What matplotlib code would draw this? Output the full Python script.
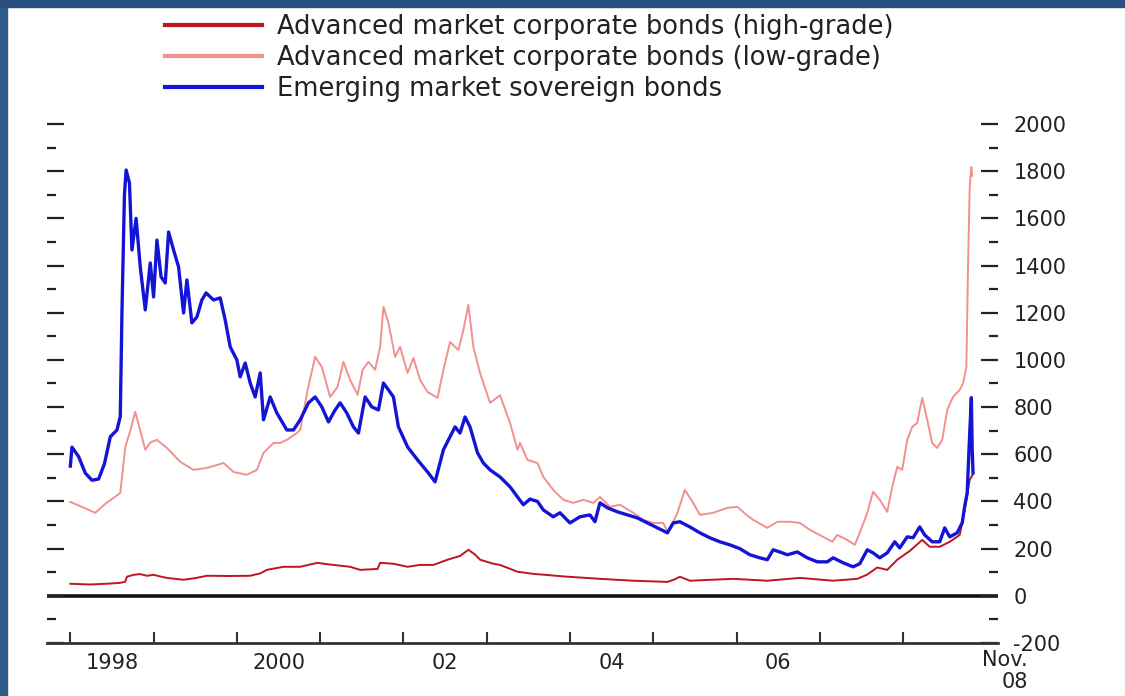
import matplotlib
matplotlib.use("Agg")
import matplotlib.pyplot as plt
from matplotlib.patches import Rectangle

# spreads in basis points, dates as decimal years
hg_t = [1998.00, 1998.24, 1998.48, 1998.60, 1998.66, 1998.68, 1998.76, 1998.84, 1998.92, 1999.00,
        1999.08, 1999.16, 1999.36, 1999.50, 1999.64, 1999.92, 2000.16, 2000.28, 2000.36, 2000.56,
        2000.76, 2000.97, 2001.06, 2001.16, 2001.36, 2001.48, 2001.69, 2001.72, 2001.88, 2002.05,
        2002.20, 2002.36, 2002.53, 2002.68, 2002.78, 2002.86, 2002.92, 2003.08, 2003.16, 2003.37,
        2003.56, 2003.97, 2004.36, 2004.76, 2005.17, 2005.26, 2005.32, 2005.44, 2005.96, 2006.37,
        2006.76, 2007.16, 2007.45, 2007.57, 2007.69, 2007.81, 2007.93, 2008.08, 2008.23, 2008.32,
        2008.44, 2008.56, 2008.68, 2008.74, 2008.80, 2008.83]
hg_v = [51, 48, 52, 55, 60, 81, 89, 92, 85, 89,
        82, 76, 68, 75, 85, 84, 85, 95, 110, 123,
        123, 140, 135, 131, 123, 110, 114, 140, 136, 123,
        131, 131, 153, 169, 195, 175, 153, 136, 131, 102,
        93, 81, 72, 64, 59, 70, 81, 64, 72, 64,
        76, 64, 72, 90, 120, 110, 153, 190, 237, 208,
        208, 229, 258, 364, 491, 510]

lg_t = [1998.00, 1998.12, 1998.30, 1998.42, 1998.52, 1998.60, 1998.66, 1998.72, 1998.78, 1998.84,
        1998.90, 1998.96, 1999.04, 1999.16, 1999.32, 1999.48, 1999.64, 1999.84, 1999.96, 2000.12,
        2000.24, 2000.32, 2000.44, 2000.52, 2000.60, 2000.72, 2000.76, 2000.85, 2000.94, 2001.02,
        2001.12, 2001.21, 2001.28, 2001.36, 2001.45, 2001.51, 2001.58, 2001.66, 2001.72, 2001.76,
        2001.82, 2001.90, 2001.96, 2002.05, 2002.12, 2002.20, 2002.29, 2002.41, 2002.48, 2002.56,
        2002.66, 2002.72, 2002.78, 2002.84, 2002.92, 2003.04, 2003.16, 2003.28, 2003.37, 2003.40,
        2003.49, 2003.61, 2003.68, 2003.80, 2003.92, 2004.04, 2004.16, 2004.28, 2004.36, 2004.48,
        2004.60, 2004.76, 2004.88, 2005.00, 2005.12, 2005.18, 2005.29, 2005.38, 2005.48, 2005.56,
        2005.72, 2005.89, 2006.01, 2006.13, 2006.20, 2006.37, 2006.49, 2006.64, 2006.76, 2006.88,
        2007.04, 2007.15, 2007.21, 2007.33, 2007.42, 2007.48, 2007.57, 2007.64, 2007.72, 2007.81,
        2007.87, 2007.93, 2007.99, 2008.05, 2008.11, 2008.17, 2008.23, 2008.29, 2008.35, 2008.41,
        2008.47, 2008.53, 2008.60, 2008.68, 2008.72, 2008.76, 2008.78, 2008.80, 2008.82, 2008.83]
lg_v = [398, 380, 352, 390, 415, 436, 631, 700, 780, 700,
        619, 650, 661, 627, 568, 534, 542, 563, 525, 513,
        534, 606, 648, 648, 661, 690, 703, 873, 1013, 970,
        843, 886, 992, 915, 852, 958, 992, 958, 1055, 1225,
        1157, 1013, 1055, 945, 1008, 915, 864, 839, 958, 1076,
        1042, 1127, 1233, 1055, 945, 818, 850, 733, 619, 648,
        576, 563, 504, 449, 407, 394, 407, 394, 419, 377,
        386, 352, 322, 309, 309, 267, 352, 449, 394, 343,
        352, 373, 377, 340, 322, 288, 314, 314, 309, 280,
        250, 229, 258, 237, 216, 267, 352, 441, 407, 356,
        462, 547, 534, 661, 716, 733, 839, 746, 648, 627,
        661, 788, 843, 873, 900, 970, 1394, 1733, 1818, 1780]

em_t = [1998.00, 1998.02, 1998.10, 1998.18, 1998.26, 1998.34, 1998.41, 1998.48, 1998.56, 1998.60,
        1998.62, 1998.65, 1998.67, 1998.71, 1998.74, 1998.79, 1998.84, 1998.90, 1998.96, 1999.00,
        1999.04, 1999.09, 1999.14, 1999.18, 1999.24, 1999.30, 1999.36, 1999.40, 1999.46, 1999.52,
        1999.58, 1999.63, 1999.72, 1999.80, 1999.86, 1999.92, 2000.00, 2000.04, 2000.10, 2000.16,
        2000.22, 2000.28, 2000.32, 2000.40, 2000.48, 2000.60, 2000.68, 2000.76, 2000.86, 2000.94,
        2001.02, 2001.10, 2001.18, 2001.24, 2001.32, 2001.40, 2001.46, 2001.54, 2001.62, 2001.70,
        2001.76, 2001.82, 2001.88, 2001.94, 2002.05, 2002.17, 2002.29, 2002.38, 2002.48, 2002.56,
        2002.62, 2002.68, 2002.74, 2002.80, 2002.89, 2002.96, 2003.04, 2003.16, 2003.28, 2003.37,
        2003.44, 2003.52, 2003.61, 2003.68, 2003.80, 2003.88, 2004.00, 2004.12, 2004.24, 2004.30,
        2004.36, 2004.45, 2004.57, 2004.69, 2004.81, 2004.93, 2005.05, 2005.17, 2005.24, 2005.32,
        2005.44, 2005.56, 2005.68, 2005.80, 2005.92, 2006.04, 2006.16, 2006.28, 2006.37, 2006.44,
        2006.52, 2006.61, 2006.73, 2006.85, 2006.97, 2007.09, 2007.16, 2007.28, 2007.40, 2007.48,
        2007.57, 2007.64, 2007.72, 2007.81, 2007.90, 2007.96, 2008.05, 2008.12, 2008.20, 2008.26,
        2008.35, 2008.44, 2008.50, 2008.56, 2008.65, 2008.71, 2008.74, 2008.77, 2008.79, 2008.82,
        2008.83, 2008.84]
em_v = [550, 630, 590, 520, 490, 495, 560, 674, 703, 760,
        1200, 1700, 1805, 1750, 1466, 1600, 1394, 1212, 1411, 1267,
        1508, 1352, 1326, 1542, 1466, 1394, 1199, 1339, 1157, 1182,
        1254, 1284, 1254, 1263, 1169, 1055, 1000, 928, 987, 902,
        843, 945, 746, 843, 775, 703, 703, 746, 818, 843,
        801, 737, 788, 818, 775, 716, 690, 843, 801, 788,
        902, 873, 843, 716, 631, 576, 525, 483, 619, 674,
        716, 690, 758, 716, 606, 563, 534, 504, 462, 419,
        386, 410, 400, 364, 335, 352, 309, 335, 343, 314,
        394, 373, 356, 343, 330, 309, 288, 267, 309, 314,
        292, 267, 246, 229, 216, 200, 174, 161, 153, 195,
        186, 174, 186, 161, 144, 144, 161, 140, 123, 136,
        195, 182, 161, 182, 229, 203, 250, 246, 292, 258,
        229, 229, 288, 250, 267, 309, 380, 436, 606, 840,
        620, 520]

labels = ["Advanced market corporate bonds (high-grade)",
          "Advanced market corporate bonds (low-grade)",
          "Emerging market sovereign bonds"]

yticks = [-200, 0, 200, 400, 600, 800, 1000, 1200, 1400, 1600, 1800, 2000]
ytick_labels = ["-200", "0", "200", "400", "600", "800", "1000", "1200",
                "1400", "1600", "1800", "2000"]
year_ticks = list(range(1998, 2009))
year_label_pos = [1998.5, 2000.5, 2002.5, 2004.5, 2006.5]
year_labels = ["1998", "2000", "02", "04", "06"]

W, H = 1125, 696
fig = plt.figure(figsize=(W / 100, H / 100), dpi=100)
plt.rcParams['font.family'] = ['DejaVu Sans']

# blue frame edges
fig.add_artist(Rectangle((0, 0), 7 / W, 1, transform=fig.transFigure,
                         color='#2c5b8c', zorder=0))
fig.add_artist(Rectangle((0, 1 - 7 / H), 1, 7 / H, transform=fig.transFigure,
                         color='#29507d', zorder=0))

ax = fig.add_axes([47 / W, 53 / H, (998 - 47) / W, (643 - 124) / H])
ax.set_xlim(1997.72, 2009.14)
ax.set_ylim(-200, 2000)

l2, = ax.plot(lg_t, lg_v, color='#f29090', lw=1.4, zorder=2)
l1, = ax.plot(hg_t, hg_v, color='#c0141e', lw=1.4, zorder=3)
l3, = ax.plot(em_t, em_v, color='#1414d6', lw=2.4, zorder=4)
ax.axhline(0, color='#111111', lw=2.6, zorder=1)

for s in ['left', 'right', 'top']:
    ax.spines[s].set_visible(False)
ax.spines['bottom'].set_color('#333333')
ax.spines['bottom'].set_linewidth(2)

ax.set_yticks(yticks, labels=ytick_labels)
ax.set_yticks(range(-100, 2000, 200), minor=True)
ax.tick_params(axis='y', which='both', direction='in', left=True, right=True,
               labelleft=False, labelright=True, color='#222222')
ax.tick_params(axis='y', which='major', length=12, width=1.6, pad=11,
               labelsize=15, labelcolor='#222222')
ax.tick_params(axis='y', which='minor', length=6.5, width=1.6)

ax.set_xticks(year_ticks, labels=[''] * len(year_ticks))
ax.set_xticks(year_label_pos, labels=year_labels, minor=True)
ax.tick_params(axis='x', which='major', direction='in', length=8, width=1.5,
               color='#333333')
ax.tick_params(axis='x', which='minor', length=0, pad=7, labelsize=15,
               labelcolor='#222222')

fig.text(1028 / W, 1 - 650 / H, "Nov.\n08", ha='right', va='top',
         multialignment='right', fontsize=15, color='#222222', linespacing=1.15)

leg = fig.legend([l1, l2, l3], labels, loc='upper left',
                 bbox_to_anchor=(165 / W, 1 - 14 / H), frameon=False,
                 handlelength=3.77, handletextpad=0.58, labelspacing=0.2,
                 borderpad=0, borderaxespad=0, fontsize=18.5)
for t in leg.get_texts():
    t.set_color('#222222')
for ln in leg.get_lines():
    ln.set_linewidth(3)

fig.savefig('out.png', dpi=100)
